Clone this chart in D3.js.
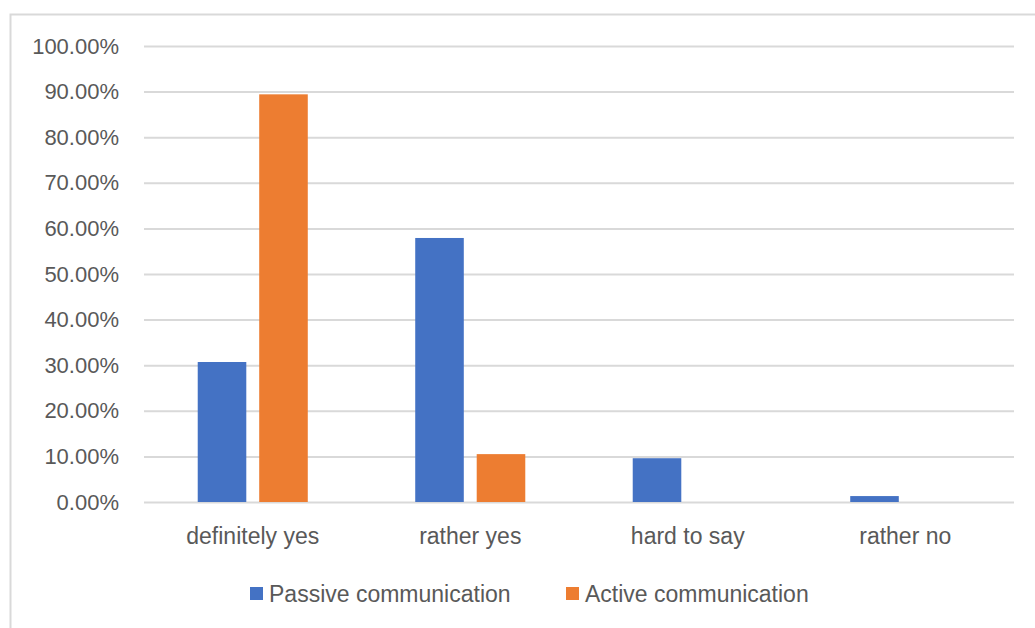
<!DOCTYPE html>
<html>
<head>
<meta charset="utf-8">
<script src="https://cdn.jsdelivr.net/npm/d3@7"></script>
<style>
  body { margin: 0; background: #fff; }
  text { font-family: "Liberation Sans", Arial, sans-serif; fill: #595959; }
</style>
</head>
<body>
<div id="chart"></div>
<script>
const categories = ["definitely yes", "rather yes", "hard to say", "rather no"];
const seriesNames = ["Passive communication", "Active communication"];
const passive = [0.307, 0.579, 0.096, 0.013];
const active = [0.894, 0.105, 0, 0];
const yTicks = [0, 0.1, 0.2, 0.3, 0.4, 0.5, 0.6, 0.7, 0.8, 0.9, 1.0];
const colors = ["#4472c4", "#ed7d31"];

const svgWidth = 1035;
const svgHeight = 628;
const margin = { top: 46, right: 21, bottom: 126, left: 144 };
const width = svgWidth - margin.left - margin.right;
const height = svgHeight - margin.top - margin.bottom;

let svg = d3.select("#chart").append("svg").attr("width", svgWidth).attr("height", svgHeight);

// chart frame (runs off the right and bottom edges like the screenshot)
svg.append("rect")
  .attr("x", 10.5).attr("y", 14.5)
  .attr("width", 1100).attr("height", 700)
  .attr("fill", "none").attr("stroke", "#d9d9d9").attr("stroke-width", 2);

let chrtgrp = svg.append("g").attr("transform", `translate(${margin.left}, ${margin.top})`);

let rows = categories.map((c, i) => ({ cat: c, vals: [passive[i], active[i]] }));

let x0 = d3.scaleBand().domain(categories).range([0, width]).paddingInner(0.494).paddingOuter(0.247);
let x1 = d3.scaleBand().domain(seriesNames).range([0, x0.bandwidth()]).paddingInner(0.21);
let y = d3.scaleLinear().domain([0, 1]).range([height, 0]);

// gridlines + y labels
let yAxis = chrtgrp.append("g")
  .call(d3.axisLeft(y).tickValues(yTicks).tickSize(-width).tickPadding(25).tickFormat(d3.format(".2%")));
yAxis.select(".domain").remove();
yAxis.selectAll(".tick line").attr("stroke", "#d9d9d9").attr("stroke-width", 2);
yAxis.selectAll(".tick text").attr("font-size", 22).attr("fill", "#595959")
  .style("font-family", "'Liberation Sans', Arial, sans-serif");

// bars
let grp = chrtgrp.selectAll("g.cat")
  .data(rows)
  .enter()
  .append("g")
  .attr("class", "cat")
  .attr("transform", d => `translate(${x0(d.cat)}, 0)`);
grp.selectAll("rect")
  .data(d => d.vals.map((v, i) => ({ name: seriesNames[i], v: v, i: i })))
  .enter()
  .append("rect")
  .attr("x", d => x1(d.name))
  .attr("y", d => y(d.v))
  .attr("width", x1.bandwidth())
  .attr("height", d => height - y(d.v))
  .attr("fill", d => colors[d.i]);

// x labels
let xAxis = chrtgrp.append("g")
  .attr("transform", `translate(0, ${height})`)
  .call(d3.axisBottom(x0).tickSize(0).tickPadding(26));
xAxis.select(".domain").remove();
xAxis.selectAll(".tick text").attr("font-size", 23).attr("fill", "#595959")
  .style("font-family", "'Liberation Sans', Arial, sans-serif");

// legend
let lgnd = svg.append("g");
let lx = [250, 566];
seriesNames.forEach((s, i) => {
  lgnd.append("rect").attr("x", lx[i]).attr("y", 587).attr("width", 13).attr("height", 13).attr("fill", colors[i]);
  lgnd.append("text").attr("x", lx[i] + 19).attr("y", 602).attr("font-size", 23).text(s);
});
</script>
</body>
</html>
